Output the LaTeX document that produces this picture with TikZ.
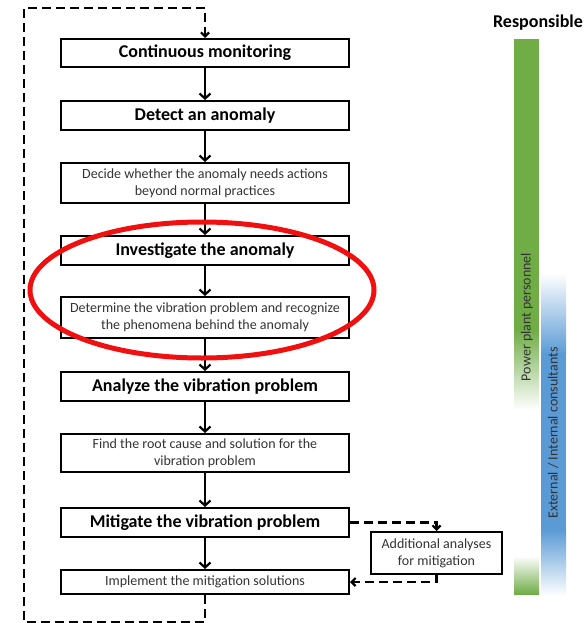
\documentclass[tikz,border=0pt]{standalone}
\usepackage{fontspec}
\setmainfont{Carlito}
\usetikzlibrary{arrows.meta}
\definecolor{ppgreen}{HTML}{70AD47}
\definecolor{conblue}{HTML}{5B9BD5}
\definecolor{txtgray}{HTML}{333333}
\definecolor{markred}{HTML}{F01010}
\begin{document}
\begin{tikzpicture}[x=1pt,y=-1pt,
  stepbox/.style={draw, line width=2pt, minimum width=288pt, inner sep=0pt,
    align=center, text=txtgray, font=\fontsize{14}{17}\selectfont},
  mainbox/.style={stepbox, text=black, font=\bfseries\fontsize{18}{20}\selectfont},
  flow/.style={line width=2.2pt, -{Straight Barb[length=5pt,width=11pt]}},
  side/.style={line width=2.2pt, dash pattern=on 9pt off 5pt,
    -{Straight Barb[length=4pt,width=8pt]}},
  barlabel/.style={rotate=90, text=txtgray, font=\fontsize{14}{17}\selectfont}
]
\useasboundingbox (0,0) rectangle (585,623);

% responsibility bars
\fill[ppgreen] (514,39) rectangle (539,331);
\shade[top color=ppgreen, bottom color=white] (514,330) rectangle (539,410);
\shade[top color=white, bottom color=ppgreen] (514,556) rectangle (539,594);
\shade[top color=white, bottom color=conblue] (541,273) rectangle (566,354);
\fill[conblue] (541,353) rectangle (566,531);
\shade[top color=conblue, bottom color=white] (541,530) rectangle (566,596);
\node[font=\bfseries\fontsize{18}{20}\selectfont] (resp) at (538,23) {Responsible};
\node[barlabel] (ppl) at (527,317) {Power plant personnel};
\node[barlabel] (cons) at (553,433) {External / Internal consultants};

% process steps
\node[mainbox, minimum height=28pt] (mon) at (205,53) {Continuous monitoring};
\node[mainbox, minimum height=29pt] (det) at (205,115.5) {Detect an anomaly};
\node[stepbox, minimum height=40pt] (dec) at (205,183) {Decide whether the anomaly needs actions\\beyond normal practices};
\node[mainbox, minimum height=29pt] (inv) at (205,250.5) {Investigate the anomaly};
\node[stepbox, minimum height=41pt] (dtm) at (205,317.5) {Determine the vibration problem and recognize\\the phenomena behind the anomaly};
\node[mainbox, minimum height=29pt] (ana) at (205,386.5) {Analyze the vibration problem};
\node[stepbox, minimum height=38pt] (roo) at (205,453) {Find the root cause and solution for the\\vibration problem};
\node[mainbox, minimum height=29pt] (mit) at (205,522.5) {Mitigate the vibration problem};
\node[stepbox, minimum height=24pt] (imp) at (205,582) {Implement the mitigation solutions};
\node[stepbox, minimum width=131pt, minimum height=42pt] (add) at (436.5,553) {Additional analyses\\for mitigation};

% main flow
\draw[flow] (mon) -- (det);
\draw[flow] (det) -- (dec);
\draw[flow] (dec) -- (inv);
\draw[flow] (inv) -- (dtm);
\draw[flow] (dtm) -- (ana);
\draw[flow] (ana) -- (roo);
\draw[flow] (roo) -- (mit);
\draw[flow] (mit) -- (imp);

% side branch and monitoring loop
\draw[side] (mit.east) -| (add.north);
\draw[side] (add.south) |- (imp.east);
\draw[side] (imp.south) -- (205,622) -| (24,8) -| (mon.north);

% highlight
\draw[markred, line width=5pt] (202,290) ellipse [x radius=172, y radius=68];
\end{tikzpicture}
\end{document}
